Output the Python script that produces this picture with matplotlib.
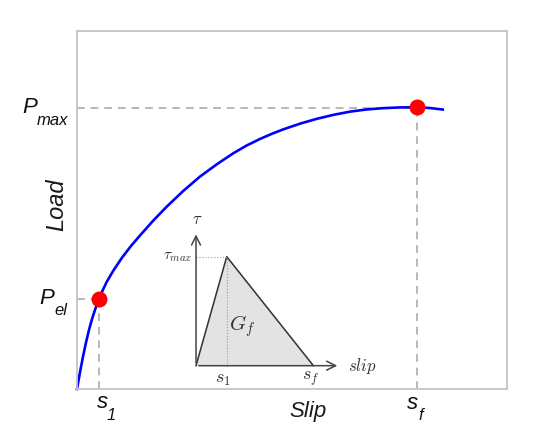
import matplotlib
matplotlib.use('Agg')
import matplotlib.pyplot as plt

# main load-slip curve (arbitrary units)
slip = [0, 3, 6, 9, 12, 15, 18, 22, 26, 30, 36.3, 45, 54, 63, 76, 89.7,
        106, 123, 139.7, 156.3, 169.7, 183, 194.7, 206.3, 223, 239.7,
        256.4, 273, 289.7, 306.3, 323, 340, 353, 365.7]
load = [0, 16.8, 32.4, 46.5, 59.1, 69.9, 79.2, 90.0, 99.4, 107.6, 118.3,
        131.3, 143.0, 153.5, 168.1, 182.3, 197.8, 212.4, 224.6, 235.7,
        243.5, 250, 255.1, 259.6, 265.3, 270.1, 274.1, 277.3, 279.5,
        280.8, 281.5, 281.7, 280.9, 279.4]

# key points
s1, p_el = 22, 90.0
sf, p_max = 340, 281.7

# inset bond-slip law (triangle)
tri_x = [119, 149.7, 236.3]
tri_y = [23.3, 132.3, 23.3]
inset_top = 157.3
inset_right = 263

fig = plt.figure(figsize=(5.5, 4.47), dpi=100)
ax = fig.add_axes([0.14, 0.1298, 0.782, 0.801])
ax.set_xlim(0, 430)
ax.set_ylim(0, 358)
ax.set_xticks([])
ax.set_yticks([])
for sp in ax.spines.values():
    sp.set_color('#c4c4c4')
    sp.set_linewidth(1.3)

# dashed guide lines
dash = dict(color='#b8b8b8', lw=1.4, ls=(0, (4, 3)), zorder=1)
ax.plot([0, sf], [p_max - 1, p_max - 1], **dash)
ax.plot([sf, sf], [0, p_max], **dash)
ax.plot([0, s1], [p_el, p_el], **dash)
ax.plot([s1, s1], [0, p_el], **dash)

# curve and points
ax.plot(slip, load, color='#0000ff', lw=1.9, zorder=2, clip_on=False,
        solid_joinstyle='round')
ax.plot([s1, sf], [p_el, p_max], 'o', color='#ff0000', ms=11.5,
        markeredgewidth=0, zorder=3, clip_on=False)

# inset: triangle law
ax.fill(tri_x, tri_y, color='#e3e3e3', zorder=1)
ax.plot(tri_x, tri_y, color='#333333', lw=1.1, zorder=2)
ax.plot([tri_x[1], tri_x[1]], [tri_y[0], tri_y[1]], color='#999999', lw=0.8, ls=':', zorder=2)
ax.plot([tri_x[0], tri_x[1]], [tri_y[1], tri_y[1]], color='#999999', lw=0.8, ls=':', zorder=2)
arrow = dict(arrowstyle='->', color='#444444', lw=1.1, mutation_scale=16)
ax.annotate('', xy=(tri_x[0], inset_top), xytext=(tri_x[0], tri_y[0]), arrowprops=arrow)
ax.annotate('', xy=(inset_right, tri_y[0]), xytext=(tri_x[0], tri_y[0]), arrowprops=arrow)

cm = dict(math_fontfamily='cm', color='#333333')
ax.text(120, 170, r'$\tau$', ha='center', va='center', fontsize=12, **cm)
ax.text(115.7, tri_y[1], r'$\tau_{max}$', ha='right', va='center', fontsize=11, **cm)
ax.text(146.2, 10, r'$s_1$', ha='center', va='center', fontsize=13, **cm)
ax.text(233.3, 10, r'$s_f$', ha='center', va='center', fontsize=13, **cm)
ax.text(270.9, tri_y[0], r'$slip$', ha='left', va='center', fontsize=12, **cm)
ax.text(165.5, 62.7, r'$G_f$', ha='center', va='center', fontsize=15, **cm)

# main labels, letter and subscript placed separately
big = dict(fontsize=16, style='italic', family='Liberation Sans', color='#111111',
           va='baseline', ha='left', clip_on=False)
small = dict(big, fontsize=12)
ax.text(-55, 276, 'P', **big)
ax.text(-40, 264, 'max', **small)
ax.text(-38, 85, 'P', **big)
ax.text(-23, 74, 'el', **small)
ax.text(20, -19, 's', **big)
ax.text(30, -31, '1', **small)
ax.text(330, -20, 's', **big)
ax.text(341, -31, 'f', **small)

ax.text(-20, 184, 'Load', rotation=90, ha='center', va='center',
        fontsize=17, style='italic', family='Liberation Sans', color='#1a1a1a')
ax.text(231, -23, 'Slip', ha='center', va='center',
        fontsize=16, style='italic', family='Liberation Sans', color='#1a1a1a')

fig.savefig('out.png', dpi=100)
